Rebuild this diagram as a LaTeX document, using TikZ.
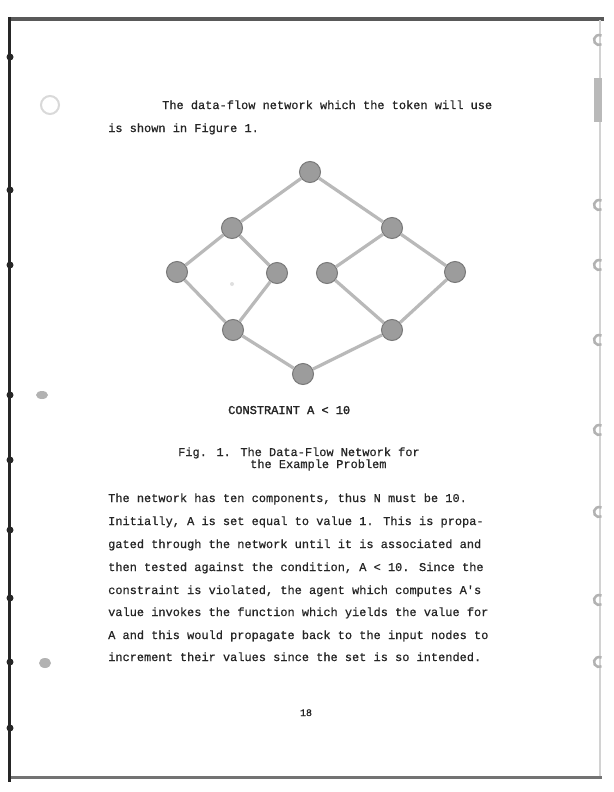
\documentclass[tikz,border=0pt]{standalone}
\usepackage{fontspec}
\newfontfamily\tw[FakeBold=0.6]{Liberation Mono}
\newfontfamily\twb[FakeBold=2]{Liberation Mono}
\begin{document}
\begin{tikzpicture}[x=1bp,y=-1bp,
  every node/.style={inner sep=0pt},
  txt/.style={anchor=base west, font=\tw\fontsize{12}{14}\selectfont, text=black!85},
  vtx/.style={circle, minimum size=21bp, fill=gray!78, draw=gray!95!black, line width=1bp},
  link/.style={draw=gray!55, line width=3.2bp},
  cmark/.style={draw=gray!60, line width=2.5bp},
  ldot/.style={fill=black!85}
]
\useasboundingbox (0,0) rectangle (614,792);
\fill[white] (0,0) rectangle (614,792);
% page border (scan)
\draw[black!65, line width=4bp] (8,19) -- (604,19);
\draw[gray!35, line width=2bp] (600,20) -- (600,776);
\draw[black!55, line width=3bp] (9,777) -- (602,777);
\draw[black!85, line width=3bp] (9,17) -- (9,782);
\foreach \yy in {57,190,265,395,460,530,598,662,728}
  \fill[ldot] (10,\yy) circle (3.5bp);
\fill[gray!55] (594,78) rectangle (602,122);
\foreach \yy in {40,205,265,340,430,512,600,662}
  \draw[cmark] ([shift={(599,\yy)}]60:5) arc (60:300:5);
% left margin marks
\draw[gray!30, line width=2bp] (50,105) circle (9);
\fill[gray!60] (42,395) ellipse (6 and 4);
\fill[gray!60] (45,663) ellipse (6 and 5);

% heading text
\node[txt] (h1) at (162,109) {The data-flow network which the token will use};
\node[txt] (h2) at (108,132) {is shown in Figure 1.};

% graph
\node[vtx] (t)  at (310,172) {};
\node[vtx] (lm) at (232,228) {};
\node[vtx] (rm) at (392,228) {};
\node[vtx] (fl) at (177,272) {};
\node[vtx] (il) at (277,273) {};
\node[vtx] (ir) at (327,273) {};
\node[vtx] (fr) at (455,272) {};
\node[vtx] (bl) at (233,330) {};
\node[vtx] (br) at (392,330) {};
\node[vtx] (b)  at (303,374) {};
\foreach \a/\c in {t/lm,t/rm,lm/fl,lm/il,fl/bl,il/bl,rm/ir,rm/fr,ir/br,fr/br,bl/b,br/b}
  \draw[link] (\a) -- (\c);
\fill[gray!25] (232,284) circle (2);

\node[txt, font=\twb\fontsize{12}{14}\selectfont] (cap) at (228,414) {CONSTRAINT A < 10};
\node[txt] (f1) at (178,456) {Fig. 1.  The Data-Flow Network for};
\node[txt] (f2) at (250,468) {the Example Problem};

% paragraph
\node[txt] (p1) at (108,502) {The network has ten components, thus N must be 10.};
\node[txt] (p2) at (108,525) {Initially, A is set equal to value 1.  This is propa-};
\node[txt] (p3) at (108,548) {gated through the network until it is associated and};
\node[txt] (p4) at (108,571) {then tested against the condition, A < 10.  Since the};
\node[txt] (p5) at (108,594) {constraint is violated, the agent which computes A's};
\node[txt] (p6) at (108,616) {value invokes the function which yields the value for};
\node[txt] (p7) at (108,639) {A and this would propagate back to the input nodes to};
\node[txt] (p8) at (108,661) {increment their values since the set is so intended.};

\node[txt, anchor=base, font=\tw\fontsize{10}{12}\selectfont] (pg) at (306,716) {18};
\end{tikzpicture}
\end{document}
